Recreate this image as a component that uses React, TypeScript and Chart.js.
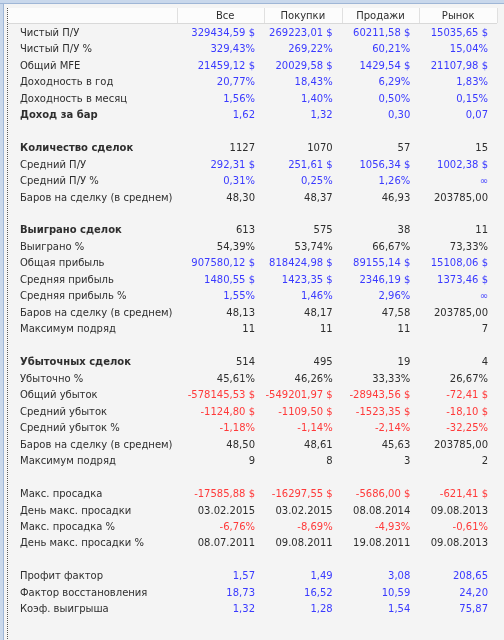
import React, { useEffect, useRef } from "react";
import { Chart, registerables } from "chart.js";

Chart.register(...registerables);

const COLUMNS = ["Все", "Покупки", "Продажи", "Рынок"];

const ROW_LABELS = [
  "Чистый П/У",
  "Чистый П/У %",
  "Общий MFE",
  "Доходность в год",
  "Доходность в месяц",
  "Доход за бар",
  "",
  "Количество сделок",
  "Средний П/У",
  "Средний П/У %",
  "Баров на сделку (в среднем)",
  "",
  "Выиграно сделок",
  "Выиграно %",
  "Общая прибыль",
  "Средняя прибыль",
  "Средняя прибыль %",
  "Баров на сделку (в среднем)",
  "Максимум подряд",
  "",
  "Убыточных сделок",
  "Убыточно %",
  "Общий убыток",
  "Средний убыток",
  "Средний убыток %",
  "Баров на сделку (в среднем)",
  "Максимум подряд",
  "",
  "Макс. просадка",
  "День макс. просадки",
  "Макс. просадка %",
  "День макс. просадки %",
  "",
  "Профит фактор",
  "Фактор восстановления",
  "Коэф. выигрыша",
];

const BOLD_LABELS = ["Доход за бар", "Количество сделок", "Выиграно сделок", "Убыточных сделок"];

// format of each row: usd / pct / num / int / date ; "" = empty row
const ROW_FORMAT = [
  "usd", "pct", "usd", "pct", "pct", "num", "",
  "int", "usd", "pct", "num", "",
  "int", "pct", "usd", "usd", "pct", "num", "int", "",
  "int", "pct", "usd", "usd", "pct", "num", "int", "",
  "usd", "date", "pct", "date", "",
  "num", "num", "num",
];

// rows whose values are shown in blue
const BLUE_ROWS = [
  "Чистый П/У", "Чистый П/У %", "Общий MFE", "Доходность в год", "Доходность в месяц", "Доход за бар",
  "Средний П/У", "Средний П/У %", "Общая прибыль", "Средняя прибыль", "Средняя прибыль %",
  "Профит фактор", "Фактор восстановления", "Коэф. выигрыша",
];

const ALL = [
  329434.59, 329.43, 21459.12, 20.77, 1.56, 1.62, null,
  1127, 292.31, 0.31, 48.30, null,
  613, 54.39, 907580.12, 1480.55, 1.55, 48.13, 11, null,
  514, 45.61, -578145.53, -1124.80, -1.18, 48.50, 9, null,
  -17585.88, "03.02.2015", -6.76, "08.07.2011", null,
  1.57, 18.73, 1.32,
];

const BUYS = [
  269223.01, 269.22, 20029.58, 18.43, 1.40, 1.32, null,
  1070, 251.61, 0.25, 48.37, null,
  575, 53.74, 818424.98, 1423.35, 1.46, 48.17, 11, null,
  495, 46.26, -549201.97, -1109.50, -1.14, 48.61, 8, null,
  -16297.55, "03.02.2015", -8.69, "09.08.2011", null,
  1.49, 16.52, 1.28,
];

const SELLS = [
  60211.58, 60.21, 1429.54, 6.29, 0.50, 0.30, null,
  57, 1056.34, 1.26, 46.93, null,
  38, 66.67, 89155.14, 2346.19, 2.96, 47.58, 11, null,
  19, 33.33, -28943.56, -1523.35, -2.14, 45.63, 3, null,
  -5686.00, "08.08.2014", -4.93, "19.08.2011", null,
  3.08, 10.59, 1.54,
];

const MARKET = [
  15035.65, 15.04, 21107.98, 1.83, 0.15, 0.07, null,
  15, 1002.38, Infinity, 203785.00, null,
  11, 73.33, 15108.06, 1373.46, Infinity, 203785.00, 7, null,
  4, 26.67, -72.41, -18.10, -32.25, 203785.00, 2, null,
  -621.41, "09.08.2013", -0.61, "09.08.2013", null,
  208.65, 24.20, 75.87,
];

const SERIES = [ALL, BUYS, SELLS, MARKET];

const FONT_FAMILY = "'DejaVu Sans', Verdana, sans-serif";
const FONT_SIZE = 10;
const COLOR_TEXT = "#2e2e2e";
const COLOR_BLUE = "#3a3aff";
const COLOR_RED = "#ff3a3a";

function formatValue(v: any, fmt: string): string {
  if (v === null || v === undefined) return "";
  if (typeof v === "string") return v;
  if (v === Infinity) return "∞";
  const fixed = (n: number) => n.toFixed(2).replace(".", ",");
  switch (fmt) {
    case "usd":
      return fixed(v) + " $";
    case "pct":
      return fixed(v) + "%";
    case "num":
      return fixed(v);
    case "int":
      return String(v);
    default:
      return String(v);
  }
}

function valueColor(v: any, row: number): string {
  if (typeof v === "number" && v < 0) return COLOR_RED;
  if (BLUE_ROWS.includes(ROW_LABELS[row])) return COLOR_BLUE;
  return COLOR_TEXT;
}

const backgroundPlugin = {
  id: "tableBackground",
  beforeDraw(chart: any) {
    const { ctx, width, height, chartArea, scales } = chart;
    const xs = scales.x;
    ctx.save();
    ctx.fillStyle = "#f4f4f4";
    ctx.fillRect(0, 0, width, height);
    // outer frame (top / left)
    ctx.fillStyle = "#c9d8ec";
    ctx.fillRect(0, 0, width, 3);
    ctx.fillRect(0, 0, 3, height);
    ctx.fillStyle = "#9fb6d6";
    ctx.fillRect(0, 3, width, 1);
    ctx.fillRect(3, 3, 1, height);
    // dashed inner line on left
    ctx.strokeStyle = "#555";
    ctx.lineWidth = 1;
    ctx.setLineDash([1, 1]);
    ctx.beginPath();
    ctx.moveTo(7.5, 8);
    ctx.lineTo(7.5, height);
    ctx.stroke();
    ctx.setLineDash([]);
    // header band
    const hTop = 8;
    const hBottom = chartArea.top - 1;
    ctx.fillStyle = "#fcfcfc";
    ctx.fillRect(8, hTop, chartArea.right - 8, hBottom - hTop);
    ctx.fillStyle = "#d9d9d9";
    ctx.fillRect(8, hBottom - 1, chartArea.right - 8, 1);
    // header separators: label column edge + column right edges
    ctx.fillStyle = "#e0e0e0";
    const seps = [chartArea.left, ...COLUMNS.map((_, i) => xs.getPixelForValue(i + 0.5))];
    seps.forEach((p: number) => {
      ctx.fillRect(Math.round(p), hTop, 1, hBottom - hTop - 1);
    });
    ctx.restore();
  },
};

const cellTextPlugin = {
  id: "cellText",
  afterDatasetsDraw(chart: any) {
    const { ctx, scales } = chart;
    const xs = scales.x;
    ctx.save();
    ctx.font = `${FONT_SIZE}px ${FONT_FAMILY}`;
    ctx.textAlign = "right";
    ctx.textBaseline = "middle";
    chart.data.datasets.forEach((ds: any, ci: number) => {
      const meta = chart.getDatasetMeta(ci);
      const values = SERIES[ci];
      const right = xs.getPixelForValue(ci + 0.5) - 9;
      meta.data.forEach((el: any, ri: number) => {
        const v = values[ri];
        if (v === null || v === undefined) return;
        ctx.fillStyle = valueColor(v, ri);
        ctx.fillText(formatValue(v, ROW_FORMAT[ri]), right, el.y);
      });
    });
    ctx.restore();
  },
};

export default function App() {
  const ref = useRef<HTMLCanvasElement>(null);

  useEffect(() => {
    if (!ref.current) return;
    const datasets = COLUMNS.map((col, ci) => ({
      label: col,
      data: ROW_LABELS.map((label, ri) => ({
        x: SERIES[ci][ri] === null ? null : ci,
        y: label,
      })),
      showLine: false,
      pointRadius: 0,
      pointHoverRadius: 0,
    }));

    const chart = new Chart(ref.current, {
      type: "line",
      data: { labels: ROW_LABELS, datasets },
      options: {
        responsive: false,
        animation: false,
        devicePixelRatio: 1,
        events: [],
        layout: { padding: { left: 20, right: 7, top: 8, bottom: 22 } },
        plugins: { legend: { display: false }, tooltip: { enabled: false } },
        scales: {
          x: {
            type: "linear",
            position: "top",
            min: -0.62,
            max: 3.5,
            grid: { display: false, drawTicks: false },
            border: { display: false },
            afterBuildTicks: (scale: any) => {
              scale.ticks = COLUMNS.map((_, i) => ({ value: i }));
            },
            afterFit: (scale: any) => {
              scale.height = 17;
            },
            ticks: {
              autoSkip: false,
              maxRotation: 0,
              padding: 3,
              color: COLOR_TEXT,
              font: { family: FONT_FAMILY, size: FONT_SIZE },
              callback: (value: any) => COLUMNS[value] ?? "",
            },
          },
          y: {
            type: "category",
            labels: ROW_LABELS,
            offset: true,
            grid: { display: false, drawTicks: false },
            border: { display: false },
            afterFit: (scale: any) => {
              scale.width = 157;
            },
            ticks: {
              autoSkip: false,
              crossAlign: "far",
              padding: 0,
              color: COLOR_TEXT,
              font: (ctx: any) => ({
                family: FONT_FAMILY,
                size: FONT_SIZE,
                weight: BOLD_LABELS.includes(ROW_LABELS[ctx.index]) ? "bold" : "normal",
              }),
            },
          },
        },
      },
      plugins: [backgroundPlugin, cellTextPlugin],
    } as any);

    return () => chart.destroy();
  }, []);

  return (
    <div style={{ position: "fixed", left: 0, top: 0, width: 504, height: 640 }}>
      <canvas ref={ref} width={504} height={640} style={{ display: "block" }} />
    </div>
  );
}
